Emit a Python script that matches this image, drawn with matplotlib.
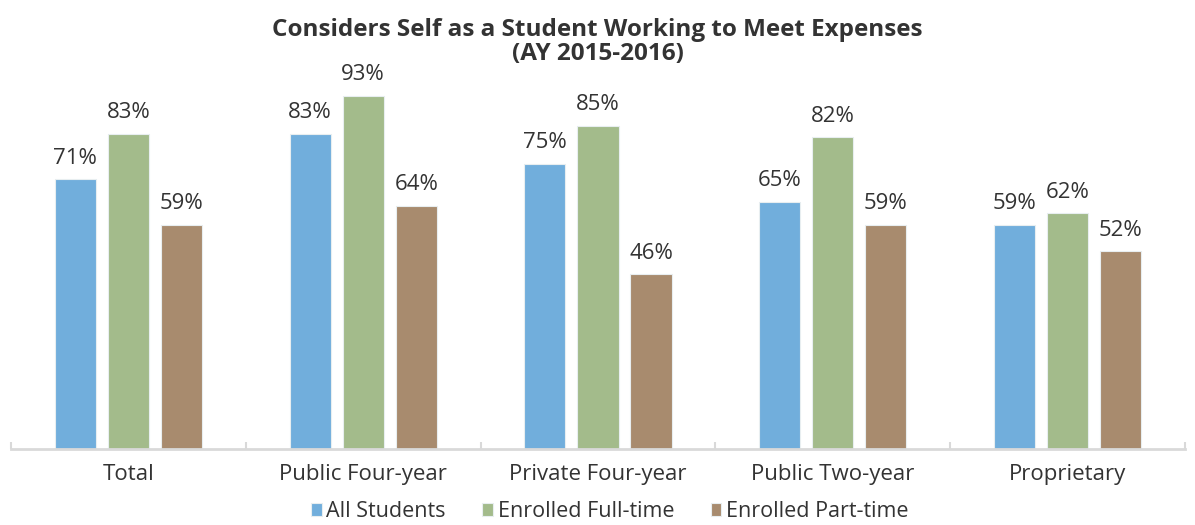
import numpy as np
import matplotlib.pyplot as plt

categories = ["Total", "Public Four-year", "Private Four-year", "Public Two-year", "Proprietary"]
all_students = [71, 83, 75, 65, 59]
full_time = [83, 93, 85, 82, 62]
part_time = [59, 64, 46, 59, 52]
series_names = ["All Students", "Enrolled Full-time", "Enrolled Part-time"]
colors = ["#71AEDC", "#A3BB8B", "#A88B6E"]

plt.rcParams['font.family'] = ['Open Sans', 'DejaVu Sans']

fig = plt.figure(figsize=(11.95, 5.25), dpi=100)
ax = fig.add_axes([0.0092, 0.1448, 0.9824, 0.7238])

x = np.arange(len(categories))
w = 0.175
step = 0.226
for i, (vals, c, name) in enumerate(zip([all_students, full_time, part_time], colors, series_names)):
    bars = ax.bar(x + (i - 1) * step, vals, w, color=c, edgecolor="#E8EEF0", linewidth=0.8, label=name)
    for b, v in zip(bars, vals):
        ax.text(b.get_x() + b.get_width() / 2, v + 2.8, f"{v}%", ha="center", va="bottom",
                fontsize=16, color="#333333")

ax.set_xlim(-0.5, len(categories) - 0.5)
ax.set_ylim(0, 100)
ax.set_yticks([])
for s in ["top", "right", "left"]:
    ax.spines[s].set_visible(False)
ax.spines["bottom"].set_color("#D9D9D9")
ax.spines["bottom"].set_linewidth(2)
ax.set_xticks(x)
ax.set_xticklabels(categories, fontsize=16, color="#333333")
ax.tick_params(axis="x", length=0, pad=11)
ax.set_xticks(np.arange(len(categories) + 1) - 0.5, minor=True)
ax.tick_params(axis="x", which="minor", length=5, color="#D9D9D9", width=1.5, direction="in")

fig.text(0.5, 0.92, "Considers Self as a Student Working to Meet Expenses\n(AY 2015-2016)",
         ha="center", va="center", fontsize=17.5, fontweight="bold", color="#333333", linespacing=1.0)

ax.legend(loc="lower center", bbox_to_anchor=(0.51, -0.215), ncol=3, frameon=False,
          fontsize=15.5, handlelength=0.5, handleheight=0.5, handletextpad=0.2, columnspacing=1.7,
          labelcolor="#333333", borderaxespad=0.0)

fig.savefig("out.png", dpi=100)
